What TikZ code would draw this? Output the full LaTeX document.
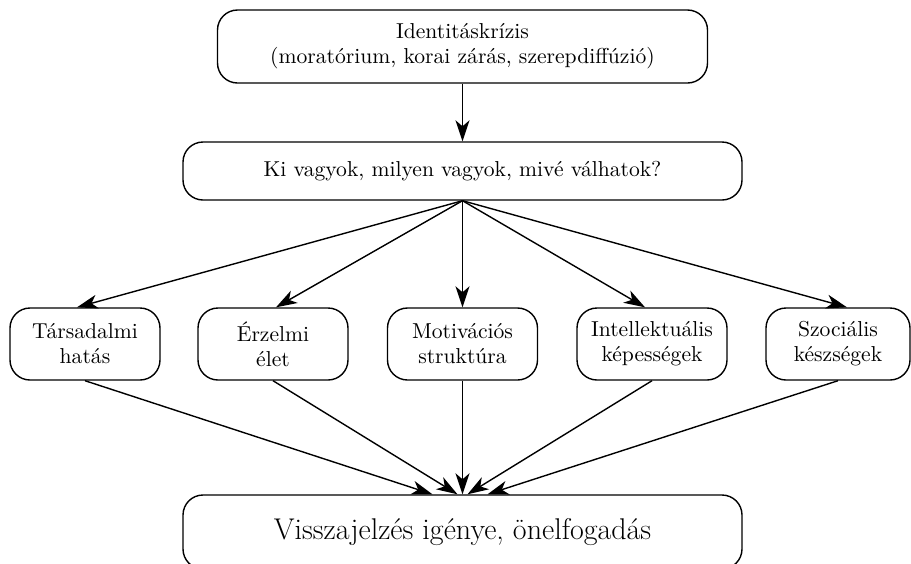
\documentclass[tikz,border=0pt]{standalone}
\usepackage{amsmath}
\usetikzlibrary{positioning, arrows.meta, shapes}

\begin{document}
\begin{tikzpicture}[x=0.5pt, y=-0.5pt,
    box/.style={draw, rounded corners=10pt, line width=0.7pt, align=center, inner sep=0pt, font=\fontsize{10.8}{12.5}\selectfont},
    arr/.style={-{Stealth[length=10.5pt,width=7pt,inset=3pt]}, line width=0.7pt}]
    \useasboundingbox (0,0) rectangle (911,563);
    \clip (0,0) rectangle (911,563);

    % Draw the two top boxes
    \node[box, minimum width=245pt, minimum height=36.5pt] (krizis) at (462.5,46.5) {Identitáskrízis\\(moratórium, korai zárás, szerepdiffúzió)};
    \node[box, minimum width=279.5pt, minimum height=29pt] (kerdes) at (462.5,171) {Ki vagyok, milyen vagyok, mivé válhatok?};
    \draw[arr] (krizis.south) -- (kerdes.north);

    % Draw the middle row
    \node[box, minimum width=75pt, minimum height=36pt] (tarsadalmi) at (85,344) {Társadalmi\\hatás};
    \node[box, minimum width=75pt, minimum height=36pt] (erzelmi) at (273,344) {Érzelmi\\élet};
    \node[box, minimum width=75pt, minimum height=36pt] (motivacios) at (462.5,344) {Motivációs\\struktúra};
    \node[box, minimum width=75pt, minimum height=36pt] (intellektualis) at (652,344) {Intellektuális\\képességek};
    \node[box, minimum width=72pt, minimum height=36pt] (szocialis) at (838,344) {Szociális\\készségek};

    % Draw the bottom box
    \node[box, minimum width=279.5pt, minimum height=37pt, font=\fontsize{15}{18}\selectfont] (visszajelzes) at (462.5,532) {Visszajelzés igénye, önelfogadás};

    % Arrows from the question to the middle row
    \draw[arr] (kerdes.south) -- ([xshift=-4pt]tarsadalmi.north);
    \draw[arr] (kerdes.south) -- ([xshift=1.5pt]erzelmi.north);
    \draw[arr] (kerdes.south) -- (motivacios.north);
    \draw[arr] (kerdes.south) -- ([xshift=-3.5pt]intellektualis.north);
    \draw[arr] (kerdes.south) -- ([xshift=4.5pt]szocialis.north);

    % Arrows from the middle row to the bottom box
    \draw[arr] (tarsadalmi.south) -- ([xshift=-15pt]visszajelzes.north);
    \draw[arr] (erzelmi.south) -- ([xshift=-2.5pt]visszajelzes.north);
    \draw[arr] (motivacios.south) -- (visszajelzes.north);
    \draw[arr] (intellektualis.south) -- ([xshift=2.5pt]visszajelzes.north);
    \draw[arr] (szocialis.south) -- ([xshift=12.5pt]visszajelzes.north);
\end{tikzpicture}
\end{document}
